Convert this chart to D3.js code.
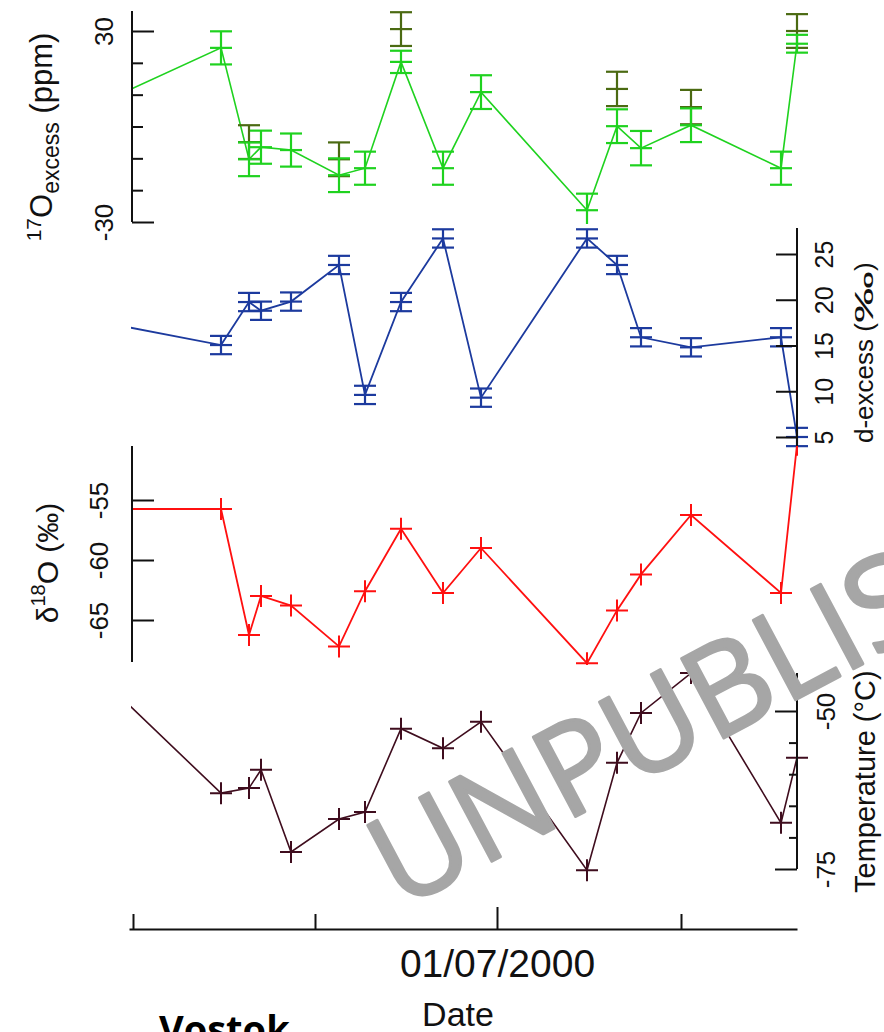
<!DOCTYPE html>
<html>
<head>
<meta charset="utf-8">
<script src="https://cdn.jsdelivr.net/npm/d3@7"></script>
<style>
  html, body { margin: 0; padding: 0; background: #fff; }
  svg { display: block; }
</style>
</head>
<body>
<div id="chart"></div>
<script>
// ---- Sampling dates (first entry lies just before the plotted window) ----
const sampleDates = [
  "1999-12-20", "2000-02-14", "2000-02-28", "2000-03-05", "2000-03-20",
  "2000-04-13", "2000-04-26", "2000-05-14", "2000-06-04", "2000-06-23",
  "2000-08-15", "2000-08-30", "2000-09-11", "2000-10-06", "2000-11-20",
  "2000-11-28"
];

// 17O-excess (ppm), its uncertainty, and replicate measurements
const o17Excess   = [8.6, 24.7, -10.3, -6.5, -7.4, -15.3, -13.1, 20.3, -13.1, 10.8, -26.3, 0.1, -6.8, 0.4, -13.1, 26.0];
const o17Error    = [5.2, 5.2, 5.3, 5.2, 5.2, 5.3, 5.2, 3.5, 5.2, 5.3, 5.2, 5.3, 5.4, 5.3, 5.2, 2.8];
const o17Replicate      = [null, null, -4.9, null, null, -10.3, null, 30.6, null, null, null, 11.8, null, 6.1, null, 30.0];
const o17ReplicateError = [null, null, 5.3, null, null, 5.3, null, 5.3, null, null, null, 5.4, null, 5.4, null, 5.3];

// d-excess (permil) and its uncertainty
const dExcess      = [17.4, 15.05, 19.75, 18.8, 19.8, 23.8, 9.6, 19.75, 26.7, 9.3, 26.7, 23.8, 15.9, 14.8, 15.9, 5.0];
const dExcessError = [1.0, 1.0, 1.0, 1.0, 1.0, 1.0, 1.0, 1.0, 1.0, 1.0, 1.0, 1.0, 1.0, 1.0, 1.0, 1.0];

// delta 18O (permil)
const d18O = [-55.75, -55.75, -66.25, -63.0, -63.8, -67.2, -62.6, -57.4, -62.75, -59.0, -68.6, -64.2, -61.2, -56.25, -62.75, -50.4];

// Temperature (deg C)
const temperature = [-46.0, -63.0, -62.2, -59.3, -72.3, -67.1, -66.0, -52.8, -55.9, -51.7, -75.2, -58.2, -50.3, -44.0, -67.7, -57.4];

// Axis ticks and labels
const dateTicks       = ["2000-01-01", "2000-04-01", "2000-07-01", "2000-10-01"];
const dateTickLabels  = ["", "", "01/07/2000", ""];
const o17Ticks        = [-30, -20, -10, 0, 10, 20, 30];
const o17TickLabels   = ["-30", "", "", "", "", "", "30"];
const dexTicks        = [5, 10, 15, 20, 25];
const dexTickLabels   = ["5", "10", "15", "20", "25"];
const d18OTicks       = [-65, -60, -55];
const d18OTickLabels  = ["-65", "-60", "-55"];
const tempTicks       = [-75, -70, -65, -60, -55, -50, -45];
const tempTickLabels  = ["-75", "", "", "", "", "-50", ""];

// ---- Layout ----
const W = 884, H = 1032;
const FONT = "'Liberation Sans', Arial, sans-serif";
const INK = "#111";

const svg = d3.select("#chart").append("svg")
  .attr("width", W).attr("height", H)
  .attr("font-family", FONT);
svg.append("rect").attr("width", W).attr("height", H).attr("fill", "#fff");

const parse = d3.utcParse("%Y-%m-%d");
const dates = sampleDates.map(parse);

const x = d3.scaleUtc()
  .domain([parse("1999-12-30"), parse("2000-11-28")])
  .range([129, 797]);

const yO17  = d3.scaleLinear().domain([-30, 30]).range([222, 31]);
const yDex  = d3.scaleLinear().domain([5, 25]).range([437, 254]);
const y18O  = d3.scaleLinear().domain([-65, -55]).range([620, 500]);
const yTemp = d3.scaleLinear().domain([-75, -50]).range([869, 711]);

const defs = svg.append("defs");
function panelClip(id, y0, y1) {
  defs.append("clipPath").attr("id", id)
    .append("rect").attr("x", 131).attr("y", y0).attr("width", W - 131).attr("height", y1 - y0);
  return `url(#${id})`;
}

// Vertical axis with ticks pointing into the plot and rotated labels
function drawAxis(o) {
  const gen = (o.side === "left" ? d3.axisLeft(o.scale) : d3.axisRight(o.scale))
    .tickValues(o.ticks).tickSizeOuter(0).tickSizeInner(0)
    .tickFormat((d, i) => o.labels[i]);
  const g = svg.append("g")
    .attr("transform", `translate(${o.axisX},0)`)
    .call(gen)
    .attr("font-family", FONT)
    .attr("font-size", o.fontSize);
  g.select(".domain")
    .attr("d", `M0,${o.y0}V${o.y1}`)
    .attr("stroke", INK).attr("stroke-width", 2);
  const dir = o.side === "left" ? 1 : -1;
  g.selectAll(".tick line")
    .attr("x2", d => dir * (o.major.includes(d) ? o.majorLen : o.minorLen))
    .attr("stroke", INK).attr("stroke-width", 2);
  g.selectAll(".tick text")
    .attr("x", null).attr("dy", null)
    .attr("fill", INK)
    .attr("text-anchor", "middle")
    .attr("transform", `translate(${o.side === "left" ? -o.labelOff : o.labelOff},0) rotate(-90)`);
  return g;
}

function seriesPoints(values, errs) {
  return dates.map((d, i) => ({ d, v: values[i], e: errs ? errs[i] : 0 }))
    .filter(p => p.v != null);
}

function drawLine(g, pts, yScale, color, width) {
  g.append("path")
    .datum(pts)
    .attr("fill", "none")
    .attr("stroke", color)
    .attr("stroke-width", width)
    .attr("d", d3.line().x(p => x(p.d)).y(p => yScale(p.v)));
}

function drawErrorBars(g, pts, yScale, color) {
  const bar = g.append("g").attr("stroke", color).attr("stroke-width", 2.2)
    .selectAll("g").data(pts).join("g");
  bar.append("line")
    .attr("x1", p => x(p.d)).attr("x2", p => x(p.d))
    .attr("y1", p => yScale(p.v - p.e)).attr("y2", p => yScale(p.v + p.e));
  [-1, 0, 1].forEach(k => {
    bar.append("line")
      .attr("x1", p => x(p.d) - 11).attr("x2", p => x(p.d) + 11)
      .attr("y1", p => yScale(p.v + k * p.e)).attr("y2", p => yScale(p.v + k * p.e));
  });
}

function drawCrosses(g, pts, yScale, color) {
  g.append("g").attr("fill", "none").attr("stroke", color).attr("stroke-width", 2)
    .selectAll("path").data(pts).join("path")
    .attr("d", p => `M${x(p.d) - 11},${yScale(p.v)}h22M${x(p.d)},${yScale(p.v) - 11}v22`);
}

// Rotated title built from pieces laid end to end (bottom to top);
// a piece may carry its own stretch factor along the reading direction.
function rotatedTitle(px, py, size, pieces) {
  const g = svg.append("g").attr("transform", `translate(${px},${py}) rotate(-90)`)
    .attr("fill", INK).attr("font-size", size);
  let offset = 0;
  pieces.forEach(p => {
    const t = g.append("text")
      .attr("transform", `translate(${offset},0) scale(${p.stretch || 1},1)`)
      .text(p.text);
    offset += t.node().getComputedTextLength() * (p.stretch || 1);
  });
  return g;
}

// ---- Panel 1: 17O-excess ----
const gO17 = svg.append("g").attr("clip-path", panelClip("clip-o17", 0, 224));
drawLine(gO17, seriesPoints(o17Excess), yO17, "#1fd21f", 1.6);
drawErrorBars(gO17, seriesPoints(o17Replicate, o17ReplicateError), yO17, "#4b6a12");
drawErrorBars(gO17, seriesPoints(o17Excess, o17Error), yO17, "#1fd21f");

drawAxis({ scale: yO17, ticks: o17Ticks, labels: o17TickLabels, major: [-30, 30],
  side: "left", axisX: 132, y0: 11, y1: 222, majorLen: 22, minorLen: 11, labelOff: 19, fontSize: 26 });

svg.append("text")
  .attr("transform", "translate(52,137) rotate(-90)")
  .attr("text-anchor", "middle").attr("fill", INK).attr("font-size", 31)
  .call(t => {
    t.append("tspan").attr("font-size", 21).attr("dy", -11).text("17");
    t.append("tspan").attr("dy", 11).text("O");
    t.append("tspan").attr("font-size", 23).attr("dy", 7).text("excess");
    t.append("tspan").attr("dy", -7).text(" (ppm)");
  });

// ---- Panel 2: d-excess ----
const gDex = svg.append("g").attr("clip-path", panelClip("clip-dex", 224, 450));
drawLine(gDex, seriesPoints(dExcess), yDex, "#1c3a9e", 1.8);
drawErrorBars(gDex, seriesPoints(dExcess, dExcessError), yDex, "#1c3a9e");

drawAxis({ scale: yDex, ticks: dexTicks, labels: dexTickLabels, major: dexTicks,
  side: "right", axisX: 797, y0: 228, y1: 448, majorLen: 21, minorLen: 21, labelOff: 36, fontSize: 25 });

rotatedTitle(873, 443, 26, [
  { text: "d-excess (" },
  { text: "‰", stretch: 2.0 },
  { text: ")" }
]);

// ---- Panel 3: delta 18O ----
const g18O = svg.append("g").attr("clip-path", panelClip("clip-18o", 446, 665));
drawLine(g18O, seriesPoints(d18O), y18O, "#ff1010", 1.8);
drawCrosses(g18O, seriesPoints(d18O), y18O, "#ff1010");

drawAxis({ scale: y18O, ticks: d18OTicks, labels: d18OTickLabels, major: d18OTicks,
  side: "left", axisX: 132, y0: 446, y1: 662, majorLen: 22, minorLen: 22, labelOff: 24, fontSize: 26 });

svg.append("text")
  .attr("transform", "translate(58,563) rotate(-90)")
  .attr("text-anchor", "middle").attr("fill", INK).attr("font-size", 30)
  .call(t => {
    t.append("tspan").text("δ");
    t.append("tspan").attr("font-size", 20).attr("dy", -13).text("18");
    t.append("tspan").attr("dy", 13).text("O (‰)");
  });

// ---- Panel 4: temperature ----
const gTemp = svg.append("g").attr("clip-path", panelClip("clip-temp", 665, 900));
drawLine(gTemp, seriesPoints(temperature), yTemp, "#3f0d1e", 1.6);
drawCrosses(gTemp, seriesPoints(temperature), yTemp, "#3f0d1e");

drawAxis({ scale: yTemp, ticks: tempTicks, labels: tempTickLabels, major: [-75, -50],
  side: "right", axisX: 797, y0: 673, y1: 869, majorLen: 22, minorLen: 8, labelOff: 38, fontSize: 26 });

svg.append("text")
  .attr("transform", "translate(875,893) rotate(-90)")
  .attr("text-anchor", "start").attr("fill", INK).attr("font-size", 29)
  .text("Temperature (°C)");

// ---- Date axis ----
const xAxis = svg.append("g")
  .attr("transform", "translate(0,929)")
  .call(d3.axisBottom(x)
    .tickValues(dateTicks.map(parse))
    .tickSizeOuter(0).tickSizeInner(0)
    .tickFormat((d, i) => dateTickLabels[i]))
  .attr("font-family", FONT).attr("font-size", 39);
xAxis.select(".domain").attr("stroke", INK).attr("stroke-width", 2);
xAxis.selectAll(".tick line")
  .attr("y2", (d, i) => dateTickLabels[i] ? -22 : -15)
  .attr("stroke", INK).attr("stroke-width", 2);
xAxis.selectAll(".tick text").attr("y", 48).attr("dy", null).attr("fill", INK);

svg.append("text")
  .attr("x", 458).attr("y", 1026)
  .attr("text-anchor", "middle").attr("fill", INK).attr("font-size", 34)
  .text("Date");

svg.append("text")
  .attr("x", 159).attr("y", 1043)
  .attr("font-family", "'Open Sans', sans-serif").attr("font-weight", 700)
  .attr("fill", "#000").attr("font-size", 38)
  .text("Vostok");

// ---- Watermark ----
svg.append("text")
  .attr("transform", "translate(400,910) rotate(-28)")
  .attr("font-family", "'Open Sans', sans-serif")
  .attr("font-size", 126)
  .attr("fill", "#a6a6a6")
  .attr("stroke", "#a6a6a6")
  .attr("stroke-width", 3)
  .attr("stroke-linejoin", "round")
  .text("UNPUBLISHED");
</script>
</body>
</html>
